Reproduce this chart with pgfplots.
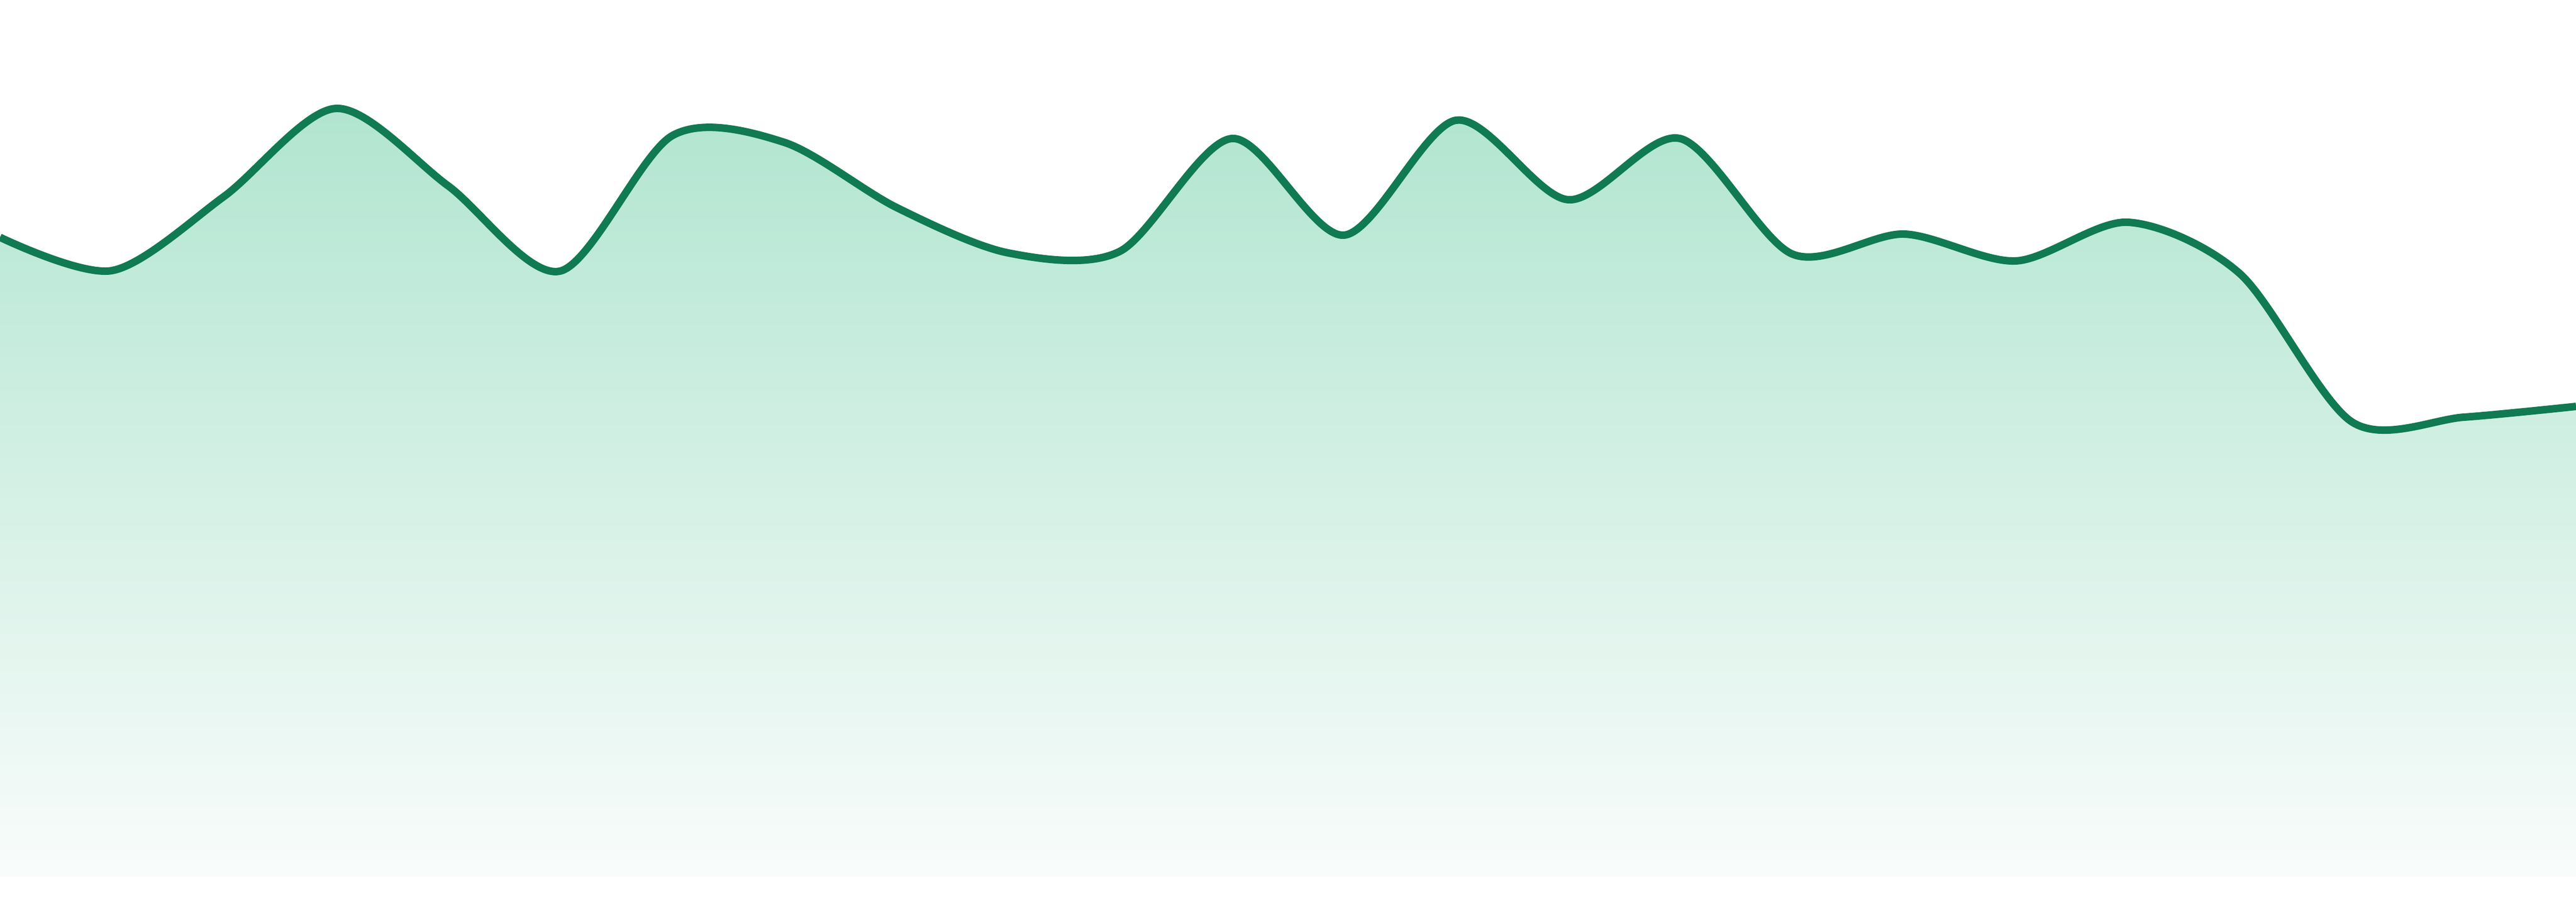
\documentclass[border=0pt]{standalone}
\usepackage{pgfplots}
\pgfplotsset{compat=1.18}
\definecolor{linegreen}{RGB}{16,122,82}
\definecolor{filltop}{RGB}{177,229,208}
\definecolor{fillbot}{RGB}{249,252,251}

\begin{document}
\begin{tikzpicture}
  \begin{axis}[
    scale only axis,
    width=480pt, height=168pt,
    xmin=0, xmax=23,
    ymin=-47, ymax=1633,
    axis line style={draw=none},
    ticks=none,
  ]
    % area under the curve, fading to near white
    \addplot[draw=none, smooth, tension=0.5, top color=filltop, bottom color=fillbot] coordinates {
      (0,1191) (1,1129) (2,1267) (3,1431) (4,1287) (5,1128) (6,1380) (7,1368)
      (8,1247) (9,1162) (10,1165) (11,1375) (12,1195) (13,1409) (14,1261) (15,1375)
      (16,1160) (17,1197) (18,1147) (19,1219) (20,1123) (21,847) (22,856) (23,876)
    } \closedcycle;

    % the line itself
    \addplot[linegreen, line width=1.4pt, smooth, tension=0.5] coordinates {
      (0,1191) (1,1129) (2,1267) (3,1431) (4,1287) (5,1128) (6,1380) (7,1368)
      (8,1247) (9,1162) (10,1165) (11,1375) (12,1195) (13,1409) (14,1261) (15,1375)
      (16,1160) (17,1197) (18,1147) (19,1219) (20,1123) (21,847) (22,856) (23,876)
    };
  \end{axis}
\end{tikzpicture}
\end{document}
